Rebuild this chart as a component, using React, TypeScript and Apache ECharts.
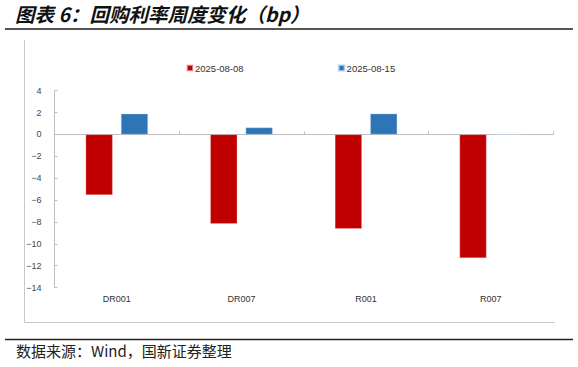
import React, { useEffect, useRef } from "react";
import * as echarts from "echarts";

const categories = ["DR001", "DR007", "R001", "R007"];
const seriesNames = ["2025-08-08", "2025-08-15"];
const values0808 = [-5.53, -8.18, -8.63, -11.31];
const values0815 = [1.9, 0.63, 1.9, 0];
const titleText = "图表 6：回购利率周度变化（bp）";
const sourceText = "数据来源：Wind，国新证券整理";

export default function App() {
  const ref = useRef<HTMLDivElement>(null);
  useEffect(() => {
    const chart = echarts.init(ref.current!, null, { renderer: "svg" });
    const labelFont = "Liberation Sans, Arial, sans-serif";
    chart.setOption({
      animation: false,
      backgroundColor: "#ffffff",
      legend: {
        top: 58,
        left: 181,
        itemGap: 94,
        itemWidth: 6,
        itemHeight: 6,
        icon: "rect",
        textStyle: { fontSize: 9.5, color: "#333", fontFamily: labelFont, padding: [0, 0, 0, -3] },
        data: seriesNames,
      },
      grid: { left: 54.5, right: 25, top: 90.7, bottom: 79.5, containLabel: false },
      xAxis: {
        type: "category",
        data: categories,
        axisLine: { onZero: true, lineStyle: { color: "#bfbfbf", width: 1 } },
        axisTick: { show: true, inside: true, length: 3, lineStyle: { color: "#bfbfbf" } },
        axisLabel: {
          show: true,
          color: "#333",
          fontSize: 9,
          fontFamily: labelFont,
          margin: 7,
        },
        position: "bottom",
      },
      yAxis: {
        type: "value",
        min: -14,
        max: 4,
        interval: 2,
        splitLine: { show: false },
        axisLine: { show: true, lineStyle: { color: "#bfbfbf" } },
        axisTick: { show: true, inside: true, length: 3, lineStyle: { color: "#bfbfbf" } },
        axisLabel: {
          color: "#444",
          fontSize: 9,
          fontFamily: labelFont,
          margin: 13,
          formatter: (v: number) => String(v).replace("-", "−"),
        },
      },
      series: [
        {
          name: seriesNames[0],
          type: "bar",
          data: values0808,
          barGap: "31%",
          barCategoryGap: "50%",
          itemStyle: { color: "#C00000", borderColor: "rgba(255,200,200,0.6)", borderWidth: 0.5 },
        },
        {
          name: seriesNames[1],
          type: "bar",
          data: values0815,
          itemStyle: { color: "#2E75B6", borderColor: "rgba(200,220,255,0.7)", borderWidth: 0.5 },
        },
      ],
      graphic: [
        {
          type: "text",
          left: 15,
          top: 4,
          style: {
            text: titleText,
            fontSize: 19.5,
            fontWeight: "bold",
            fontStyle: "italic",
            fontFamily: "Noto Sans CJK SC, sans-serif",
            fill: "#111",
          },
        },
        { type: "line", shape: { x1: 5, y1: 29, x2: 573, y2: 29 }, style: { stroke: "#555", lineWidth: 2 } },
        { type: "line", shape: { x1: 24.5, y1: 40, x2: 24.5, y2: 322.5 }, style: { stroke: "#c8c8c8", lineWidth: 1 } },
        { type: "line", shape: { x1: 24.5, y1: 322.5, x2: 555, y2: 322.5 }, style: { stroke: "#c8c8c8", lineWidth: 1 } },
        { type: "line", shape: { x1: 5, y1: 339.5, x2: 573, y2: 339.5 }, style: { stroke: "#222", lineWidth: 1.5 } },
        {
          type: "text",
          left: 16,
          top: 343,
          style: {
            text: sourceText,
            fontSize: 15,
            fontFamily: "Noto Sans CJK SC, sans-serif",
            fill: "#222",
          },
        },
      ],
    });
    return () => chart.dispose();
  }, []);
  return <div ref={ref} style={{ width: 578, height: 367, position: "absolute", left: 0, top: 0 }} />;
}
